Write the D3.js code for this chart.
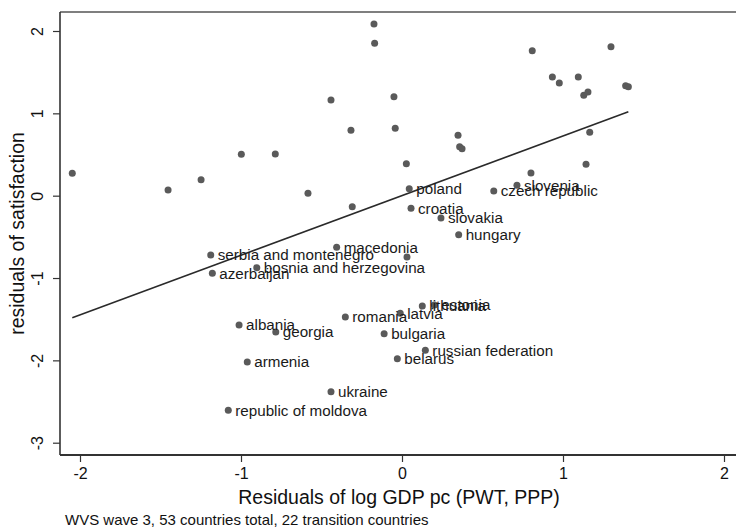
<!DOCTYPE html>
<html>
<head>
<meta charset="utf-8">
<script src="https://cdn.jsdelivr.net/npm/d3@7"></script>
<style>
  html, body { margin: 0; padding: 0; background: #fff; }
  svg { display: block; font-family: "Liberation Sans", Arial, Helvetica, sans-serif; }
</style>
</head>
<body>
<svg id="chart" width="736" height="531"></svg>
<script>
// ---- data ----
const otherX = [-2.048, -1.453, -1.248, -0.998, -0.787, -0.441, -0.584, -0.317, -0.309, -0.174,
                -0.170, -0.050, -0.042, 0.027, 0.348, 0.358, 0.373, 0.809, 0.934, 0.977,
                1.095, 1.298, 1.129, 1.155, 1.389, 1.406, 1.166, 1.143, 0.801, 0.031];
const otherY = [0.272, 0.069, 0.194, 0.503, 0.506, 1.162, 0.029, 0.794, -0.134, 2.085,
                1.851, 1.202, 0.819, 0.389, 0.734, 0.595, 0.571, 1.761, 1.442, 1.369,
                1.442, 1.810, 1.219, 1.259, 1.336, 1.324, 0.770, 0.381, 0.276, -0.745];

const transNames = ["poland", "czech republic", "slovenia", "croatia", "slovakia", "hungary",
                    "macedonia", "serbia and montenegro", "azerbaijan", "bosnia and herzegovina",
                    "albania", "georgia", "armenia", "romania", "latvia", "lithuania", "estonia",
                    "bulgaria", "russian federation", "belarus", "ukraine", "republic of moldova"];
const transX = [0.045, 0.570, 0.714, 0.056, 0.242, 0.352, -0.406, -1.188, -1.178, -0.902,
                -1.012, -0.784, -0.961, -0.352, -0.011, 0.126, 0.201, -0.111, 0.145, -0.029,
                -0.441, -1.079];
const transY = [0.085, 0.057, 0.126, -0.153, -0.271, -0.474, -0.627, -0.720, -0.942, -0.874,
                -1.570, -1.655, -2.020, -1.473, -1.428, -1.340, -1.327, -1.677, -1.878, -1.981,
                -2.380, -2.606];

const fitX = [-2.048, 1.406];
const fitY = [-1.482, 1.018];

const xTicks = [-2, -1, 0, 1, 2];
const yTicks = [-3, -2, -1, 0, 1, 2];

const xTitle = "Residuals of log GDP pc (PWT, PPP)";
const yTitle = "residuals of satisfaction";
const note = "WVS wave 3, 53 countries total, 22 transition countries";

// ---- layout ----
const svg = d3.select("#chart");
const frame = { left: 60, top: 12, right: 740, bottom: 455 };
const x = d3.scaleLinear().domain([-2, 2]).range([80, 724]);
const y = d3.scaleLinear().domain([-3, 2]).range([442.7, 31]);

// frame lines
svg.append("line").attr("x1", frame.left).attr("x2", frame.right)
   .attr("y1", frame.top).attr("y2", frame.top)
   .attr("stroke", "#555").attr("stroke-width", 1.6);

// x axis
const xAxis = svg.append("g").attr("transform", `translate(0,${frame.bottom})`)
  .call(d3.axisBottom(x).tickValues(xTicks).tickSize(7).tickPadding(6).tickFormat(d3.format("d")));
xAxis.select(".domain").remove();
xAxis.append("line").attr("x1", frame.left).attr("x2", frame.right).attr("y1", 0).attr("y2", 0)
  .attr("stroke", "#333").attr("stroke-width", 2);
xAxis.selectAll(".tick line").attr("stroke", "#333").attr("stroke-width", 1.2);
xAxis.selectAll(".tick text").attr("font-size", 16).attr("fill", "#111")
  .attr("font-family", '"Liberation Sans", Arial, sans-serif')
  .text(d => d < 0 ? "-" + Math.abs(d) : d);

// y axis
const yAxis = svg.append("g").attr("transform", `translate(${frame.left},0)`)
  .call(d3.axisLeft(y).tickValues(yTicks).tickSize(7).tickFormat(d3.format("d")));
yAxis.select(".domain").remove();
yAxis.append("line").attr("x1", 0).attr("x2", 0).attr("y1", frame.top).attr("y2", frame.bottom)
  .attr("stroke", "#333").attr("stroke-width", 1.6);
yAxis.selectAll(".tick line").attr("stroke", "#333").attr("stroke-width", 1.2);
yAxis.selectAll(".tick text")
  .attr("font-size", 16).attr("fill", "#111")
  .attr("font-family", '"Liberation Sans", Arial, sans-serif')
  .attr("x", null).attr("dy", null)
  .attr("text-anchor", "middle")
  .attr("transform", "translate(-17.5,0) rotate(-90)")
  .text(d => d < 0 ? "-" + Math.abs(d) : d);

// fit line
svg.append("path")
  .datum(d3.range(fitX.length))
  .attr("d", d3.line().x(i => x(fitX[i])).y(i => y(fitY[i])))
  .attr("stroke", "#2a2a2a").attr("stroke-width", 1.6).attr("fill", "none");

// other points
svg.append("g").selectAll("circle").data(d3.range(otherX.length)).join("circle")
  .attr("cx", i => x(otherX[i])).attr("cy", i => y(otherY[i]))
  .attr("r", 3.5).attr("fill", "#5a5a5a");

// transition points + labels
const tg = svg.append("g");
tg.selectAll("circle").data(d3.range(transX.length)).join("circle")
  .attr("cx", i => x(transX[i])).attr("cy", i => y(transY[i]))
  .attr("r", 3.5).attr("fill", "#5a5a5a");
tg.selectAll("text").data(d3.range(transX.length)).join("text")
  .attr("x", i => x(transX[i]) + 7).attr("y", i => y(transY[i]))
  .attr("dy", "0.35em")
  .attr("font-size", 15.2).attr("fill", "#1a1a1a")
  .text(i => transNames[i]);

// titles
svg.append("text").attr("x", 399).attr("y", 504)
  .attr("text-anchor", "middle").attr("font-size", 19.5).attr("fill", "#111")
  .text(xTitle);
svg.append("text")
  .attr("transform", `translate(24,${(frame.top + frame.bottom) / 2}) rotate(-90)`)
  .attr("text-anchor", "middle").attr("font-size", 19.5).attr("fill", "#111")
  .text(yTitle);
svg.append("text").attr("x", 65).attr("y", 525)
  .attr("font-size", 15).attr("fill", "#111")
  .text(note);
</script>
</body>
</html>
